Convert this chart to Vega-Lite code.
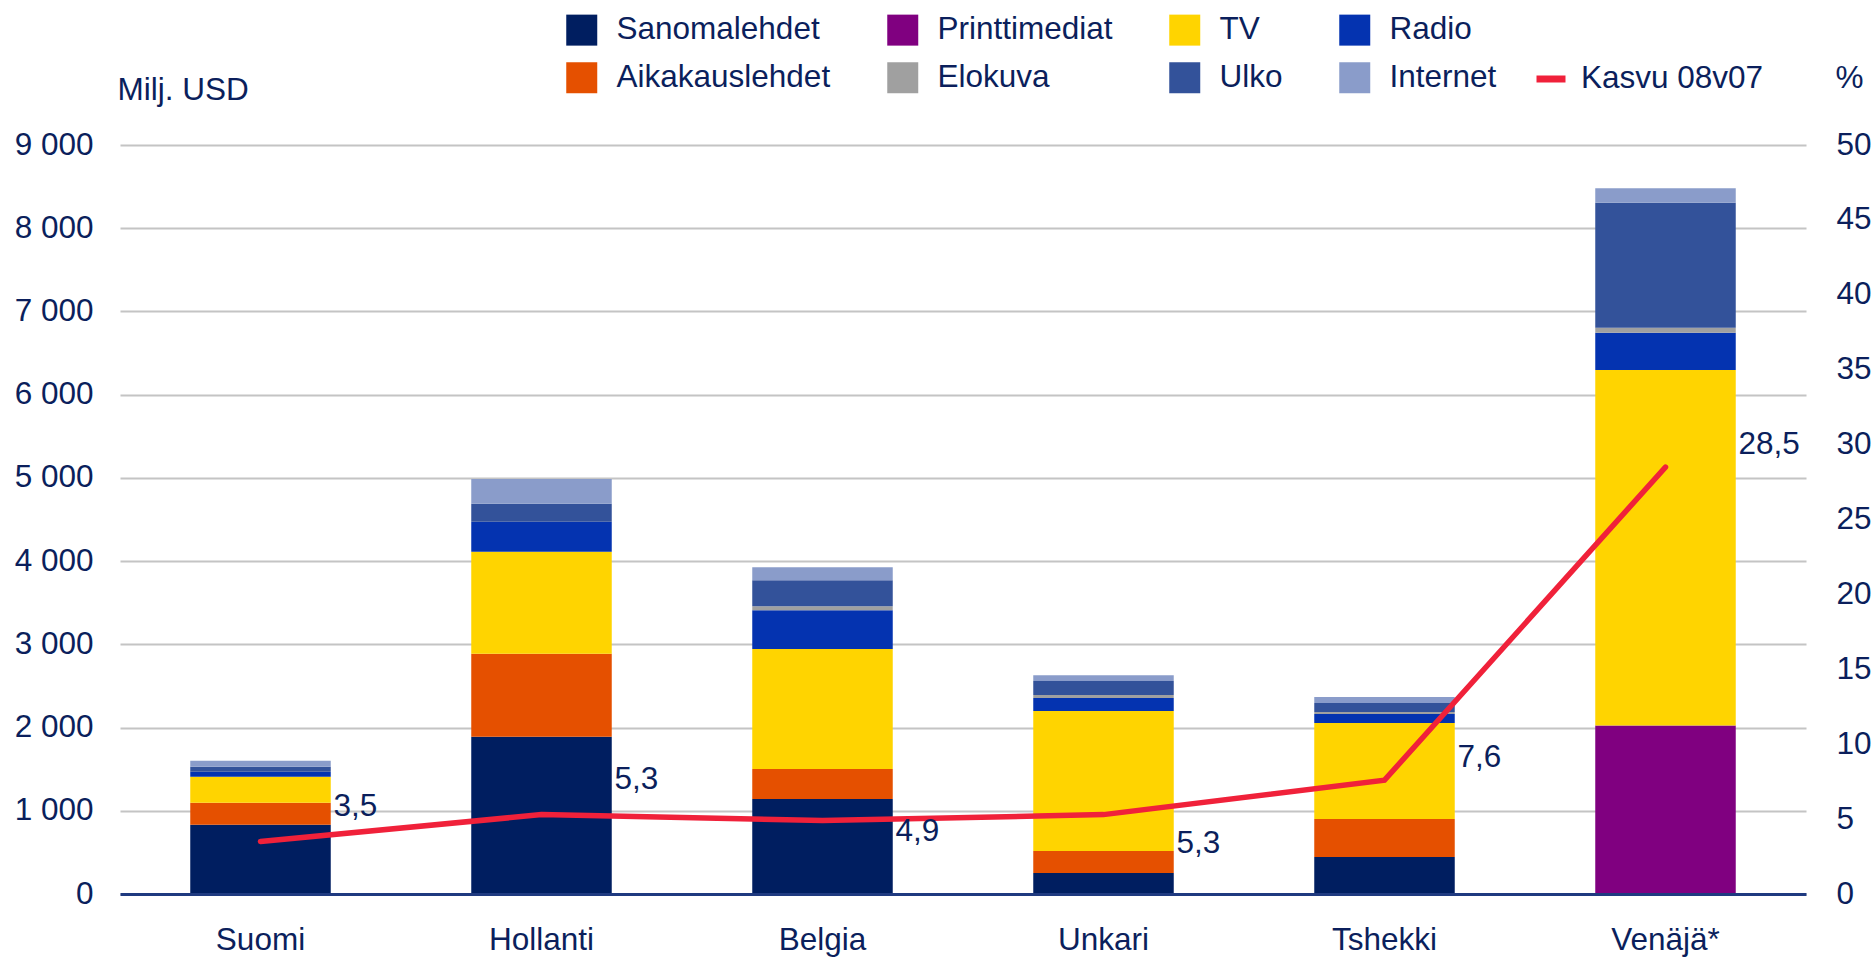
{
  "$schema": "https://vega.github.io/schema/vega-lite/v6.json",
  "width": 1686,
  "height": 749,
  "autosize": "none",
  "padding": {"left": 120, "top": 145, "right": 70, "bottom": 63},
  "background": "white",
  "config": {
    "font": "Liberation Sans",
    "locale": {"number": {"decimal": ",", "thousands": " ", "grouping": [3], "currency": ["", " €"]}},
    "view": {"stroke": null},
    "axis": {
      "labelFont": "Liberation Sans", "labelFontSize": 31.5, "labelColor": "#0B1F5C",
      "titleFont": "Liberation Sans", "titleFontSize": 31.5, "titleColor": "#0B1F5C", "titleFontWeight": "normal",
      "ticks": false, "tickSize": 0
    },
    "legend": {"labelFont": "Liberation Sans", "labelFontSize": 31.5, "labelColor": "#0B1F5C", "padding": 0}
  },
  "datasets": {
    "kulut": [
      {"maa": "Suomi", "media": "Sanomalehdet", "arvo": 832, "kerros": 1},
      {"maa": "Suomi", "media": "Aikakauslehdet", "arvo": 265, "kerros": 2},
      {"maa": "Suomi", "media": "TV", "arvo": 312, "kerros": 3},
      {"maa": "Suomi", "media": "Radio", "arvo": 60, "kerros": 4},
      {"maa": "Suomi", "media": "Ulko", "arvo": 60, "kerros": 6},
      {"maa": "Suomi", "media": "Internet", "arvo": 72, "kerros": 7},
      {"maa": "Hollanti", "media": "Sanomalehdet", "arvo": 1890, "kerros": 1},
      {"maa": "Hollanti", "media": "Aikakauslehdet", "arvo": 996, "kerros": 2},
      {"maa": "Hollanti", "media": "TV", "arvo": 1226, "kerros": 3},
      {"maa": "Hollanti", "media": "Radio", "arvo": 360, "kerros": 4},
      {"maa": "Hollanti", "media": "Ulko", "arvo": 216, "kerros": 6},
      {"maa": "Hollanti", "media": "Internet", "arvo": 300, "kerros": 7},
      {"maa": "Belgia", "media": "Sanomalehdet", "arvo": 1141, "kerros": 1},
      {"maa": "Belgia", "media": "Aikakauslehdet", "arvo": 360, "kerros": 2},
      {"maa": "Belgia", "media": "TV", "arvo": 1442, "kerros": 3},
      {"maa": "Belgia", "media": "Radio", "arvo": 468, "kerros": 4},
      {"maa": "Belgia", "media": "Elokuva", "arvo": 48, "kerros": 5},
      {"maa": "Belgia", "media": "Ulko", "arvo": 312, "kerros": 6},
      {"maa": "Belgia", "media": "Internet", "arvo": 156, "kerros": 7},
      {"maa": "Unkari", "media": "Sanomalehdet", "arvo": 252, "kerros": 1},
      {"maa": "Unkari", "media": "Aikakauslehdet", "arvo": 264, "kerros": 2},
      {"maa": "Unkari", "media": "TV", "arvo": 1682, "kerros": 3},
      {"maa": "Unkari", "media": "Radio", "arvo": 156, "kerros": 4},
      {"maa": "Unkari", "media": "Elokuva", "arvo": 36, "kerros": 5},
      {"maa": "Unkari", "media": "Ulko", "arvo": 168, "kerros": 6},
      {"maa": "Unkari", "media": "Internet", "arvo": 72, "kerros": 7},
      {"maa": "Tshekki", "media": "Sanomalehdet", "arvo": 444, "kerros": 1},
      {"maa": "Tshekki", "media": "Aikakauslehdet", "arvo": 457, "kerros": 2},
      {"maa": "Tshekki", "media": "TV", "arvo": 1153, "kerros": 3},
      {"maa": "Tshekki", "media": "Radio", "arvo": 108, "kerros": 4},
      {"maa": "Tshekki", "media": "Elokuva", "arvo": 24, "kerros": 5},
      {"maa": "Tshekki", "media": "Ulko", "arvo": 108, "kerros": 6},
      {"maa": "Tshekki", "media": "Internet", "arvo": 72, "kerros": 7},
      {"maa": "Venäjä*", "media": "Printtimediat", "arvo": 2025, "kerros": 0},
      {"maa": "Venäjä*", "media": "TV", "arvo": 4270, "kerros": 3},
      {"maa": "Venäjä*", "media": "Radio", "arvo": 450, "kerros": 4},
      {"maa": "Venäjä*", "media": "Elokuva", "arvo": 60, "kerros": 5},
      {"maa": "Venäjä*", "media": "Ulko", "arvo": 1500, "kerros": 6},
      {"maa": "Venäjä*", "media": "Internet", "arvo": 175, "kerros": 7}
    ],
    "kasvu": [
      {"maa": "Suomi", "kasvu": 3.5},
      {"maa": "Hollanti", "kasvu": 5.3},
      {"maa": "Belgia", "kasvu": 4.9},
      {"maa": "Unkari", "kasvu": 5.3},
      {"maa": "Tshekki", "kasvu": 7.6},
      {"maa": "Venäjä*", "kasvu": 28.5}
    ]
  },
  "layer": [
    {
      "data": {"name": "kulut"},
      "mark": {"type": "bar"},
      "encoding": {
        "x": {
          "field": "maa", "type": "nominal",
          "sort": ["Suomi", "Hollanti", "Belgia", "Unkari", "Tshekki", "Venäjä*"],
          "scale": {"paddingInner": 0.5, "paddingOuter": 0.25},
          "axis": {"title": null, "labelAngle": 0, "labelPadding": 30, "domain": true, "domainColor": "#1F3A80", "domainWidth": 3, "grid": false, "zindex": 1}
        },
        "y": {
          "field": "arvo", "type": "quantitative", "stack": "zero",
          "scale": {"domain": [0, 9000], "nice": false},
          "axis": {
            "values": [0, 1000, 2000, 3000, 4000, 5000, 6000, 7000, 8000, 9000],
            "format": ",d", "grid": true, "gridColor": "#C4C4C4", "gridWidth": 2, "domain": false,
            "labelPadding": 27,
            "title": "Milj. USD", "titleAngle": 0, "titleAlign": "left", "titleBaseline": "middle", "titleX": -3, "titleY": -55
          }
        },
        "color": {
          "field": "media", "type": "nominal",
          "scale": {
            "domain": ["Sanomalehdet", "Printtimediat", "TV", "Radio", "Aikakauslehdet", "Elokuva", "Ulko", "Internet"],
            "range": ["#001E60", "#800080", "#FFD400", "#0433B0", "#E55000", "#A0A0A0", "#33529A", "#8A9CCA"]
          },
          "legend": {
            "title": null, "orient": "none", "legendX": 446, "legendY": -131,
            "direction": "horizontal", "columns": 4,
            "symbolType": "square", "symbolSize": 961, "symbolStrokeWidth": 0, "symbolOpacity": 1,
            "labelLimit": 400, "labelOffset": 19, "columnPadding": 56, "rowPadding": 15
          }
        },
        "order": {"field": "kerros", "type": "quantitative", "sort": "ascending"}
      }
    },
    {
      "data": {"name": "kasvu"},
      "encoding": {
        "x": {
          "field": "maa", "type": "nominal",
          "sort": ["Suomi", "Hollanti", "Belgia", "Unkari", "Tshekki", "Venäjä*"],
          "axis": {"title": null, "labelAngle": 0, "labelPadding": 30, "domain": true, "domainColor": "#1F3A80", "domainWidth": 3, "grid": false, "zindex": 1}
        },
        "y": {
          "field": "kasvu", "type": "quantitative",
          "scale": {"domain": [0, 50], "nice": false},
          "axis": {
            "orient": "right", "values": [0, 5, 10, 15, 20, 25, 30, 35, 40, 45, 50], "format": "d",
            "grid": false, "domain": false, "labelPadding": 30,
            "title": "%", "titleAngle": 0, "titleAlign": "left", "titleBaseline": "middle", "titleX": 29, "titleY": -67
          }
        }
      },
      "layer": [
        {
          "mark": {"type": "line", "strokeWidth": 5.5, "strokeCap": "round", "strokeJoin": "miter"},
          "encoding": {
            "stroke": {
              "datum": "Kasvu 08v07",
              "scale": {"range": ["#F0213A"]},
              "legend": {
                "title": null, "orient": "none", "legendX": 1413, "legendY": -84,
                "symbolType": "stroke", "symbolSize": 841, "symbolStrokeWidth": 7,
                "labelLimit": 400, "labelOffset": 12
              }
            }
          }
        },
        {
          "transform": [{"filter": {"field": "maa", "oneOf": ["Suomi", "Hollanti"]}}],
          "mark": {"type": "text", "align": "left", "baseline": "middle", "dx": 73, "dy": -35, "fontSize": 31.5, "color": "#0B1F5C"},
          "encoding": {"text": {"field": "kasvu", "type": "quantitative", "format": ".1f"}}
        },
        {
          "transform": [{"filter": {"field": "maa", "oneOf": ["Tshekki", "Venäjä*"]}}],
          "mark": {"type": "text", "align": "left", "baseline": "middle", "dx": 73, "dy": -22, "fontSize": 31.5, "color": "#0B1F5C"},
          "encoding": {"text": {"field": "kasvu", "type": "quantitative", "format": ".1f"}}
        },
        {
          "transform": [{"filter": {"field": "maa", "equal": "Belgia"}}],
          "mark": {"type": "text", "align": "left", "baseline": "middle", "dx": 73, "dy": 11, "fontSize": 31.5, "color": "#0B1F5C"},
          "encoding": {"text": {"field": "kasvu", "type": "quantitative", "format": ".1f"}}
        },
        {
          "transform": [{"filter": {"field": "maa", "equal": "Unkari"}}],
          "mark": {"type": "text", "align": "left", "baseline": "middle", "dx": 73, "dy": 29, "fontSize": 31.5, "color": "#0B1F5C"},
          "encoding": {"text": {"field": "kasvu", "type": "quantitative", "format": ".1f"}}
        }
      ]
    }
  ],
  "resolve": {"scale": {"y": "independent"}}
}
